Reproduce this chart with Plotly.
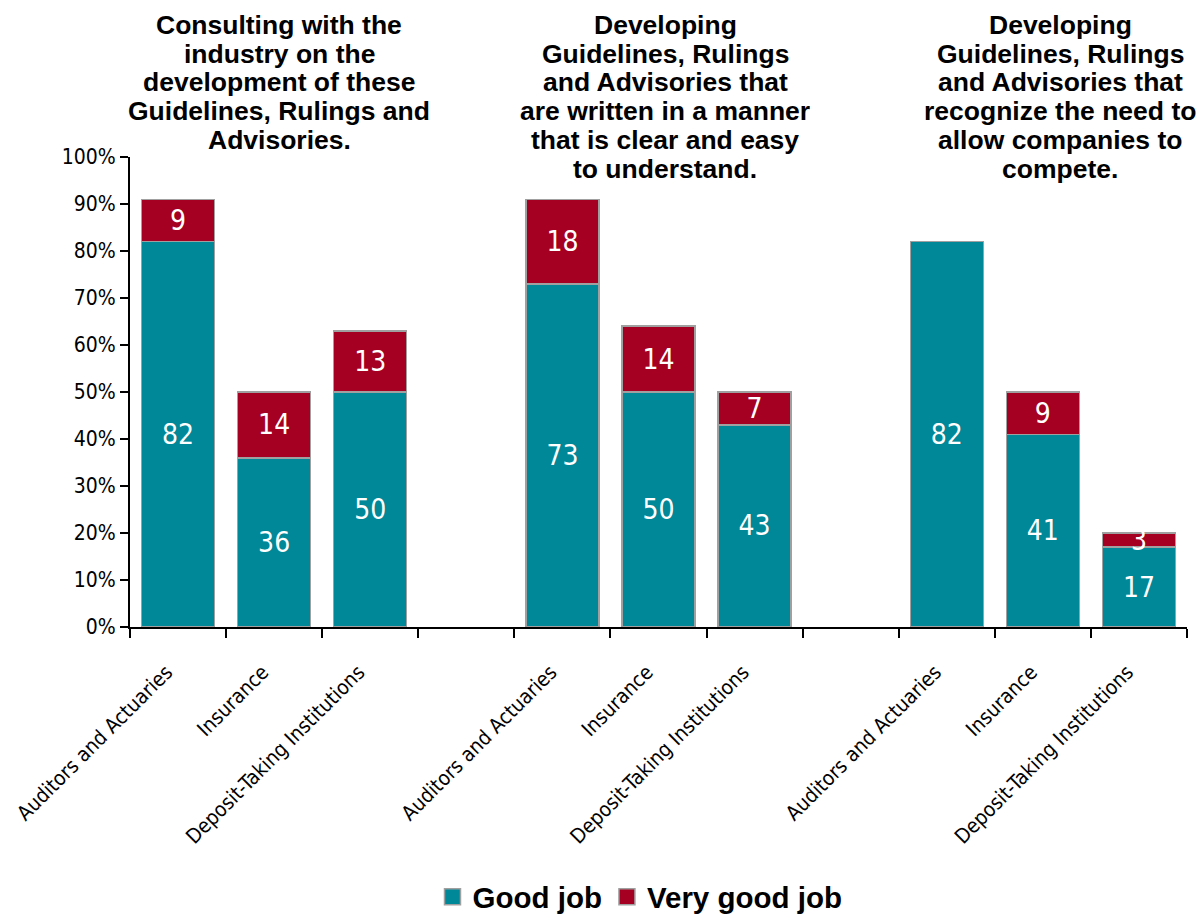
import plotly.graph_objects as go

# Survey sectors shown in every panel
sectors = ["Auditors and Actuaries", "Insurance", "Deposit-Taking Institutions"]

# Panel headings (one per group of bars), pre-broken into lines
group_titles = [
    ["Consulting with the", "industry on the", "development of these",
     "Guidelines, Rulings and", "Advisories."],
    ["Developing", "Guidelines, Rulings", "and Advisories that",
     "are written in a manner", "that is clear and easy", "to understand."],
    ["Developing", "Guidelines, Rulings", "and Advisories that",
     "recognize the need to", "allow companies to", "compete."],
]

# Percentage of respondents, per panel, in sector order
good_job = [[82, 36, 50], [73, 50, 43], [82, 41, 17]]
very_good_job = [[9, 14, 13], [18, 14, 7], [0, 9, 3]]

y_ticks = [0, 10, 20, 30, 40, 50, 60, 70, 80, 90, 100]
y_tick_labels = [f"{v}%" for v in y_ticks]

TEAL = "#008798"
RED = "#A50021"
OUTLINE = "#A0A0A0"
NARROW = "DejaVu Sans Condensed, Liberation Sans Narrow, sans-serif"
BOLD = "Liberation Sans, Arial, sans-serif"

# Each panel takes three slots, with one empty slot between panels
slots_per_group = len(sectors) + 1
x_pos, labels, good_flat, vgood_flat = [], [], [], []
for g in range(len(group_titles)):
    for i, name in enumerate(sectors):
        x_pos.append(g * slots_per_group + i)
        labels.append(name)
        good_flat.append(good_job[g][i])
        vgood_flat.append(very_good_job[g][i])
n_slots = len(group_titles) * slots_per_group - 1

fig = go.Figure()
fig.add_bar(
    x=x_pos, y=good_flat, name="Good job", showlegend=False,
    marker=dict(color=TEAL, line=dict(color=OUTLINE, width=1.5)),
    text=[str(v) if v else "" for v in good_flat],
    textposition="inside", insidetextanchor="middle", textangle=0,
    textfont=dict(family=NARROW, size=28, color="white"),
)
fig.add_bar(
    x=x_pos, y=vgood_flat, name="Very good job", showlegend=False,
    marker=dict(color=RED, line=dict(color=OUTLINE, width=1.5)),
    text=[str(v) if v else "" for v in vgood_flat],
    textposition="inside", insidetextanchor="middle", textangle=0,
    textfont=dict(family=NARROW, size=28, color="white"),
)

# Legend entries with larger square swatches
for name, color in [("Good job", TEAL), ("Very good job", RED)]:
    fig.add_scatter(
        x=[None], y=[None], mode="markers", name=f"<b>{name}</b>",
        marker=dict(symbol="square", size=18, color=color,
                    line=dict(color=OUTLINE, width=1.5)),
    )

# Plot-area geometry in pixels, used to place headings
L, R, T, B = 130, 15, 157, 288
W, H = 1202, 915
pw, ph = W - L - R, H - T - B


def px_x(px):
    return (px - L) / pw


def px_y(py):
    return (H - B - py) / ph


heading_centres = [279, 665, 1060]
for cx, lines in zip(heading_centres, group_titles):
    for k, line in enumerate(lines):
        fig.add_annotation(
            x=px_x(cx), y=px_y(25 + 28.7 * k), xref="paper", yref="paper",
            text=f"<b>{line}</b>", showarrow=False,
            xanchor="center", yanchor="middle",
            font=dict(family=BOLD, size=26.5, color="black"),
        )

# Rotated category labels sit a little left of each bar centre
label_shift = 0.12
boundaries = [b - 0.5 for b in range(n_slots + 1)]
fig.update_layout(
    width=W, height=H,
    margin=dict(l=L, r=R, t=T, b=B, autoexpand=False),
    barmode="stack", bargap=0.24,
    paper_bgcolor="white", plot_bgcolor="white",
    uniformtext=dict(minsize=28, mode="show"),
    legend=dict(
        orientation="h", xref="paper", yref="paper", traceorder="normal",
        x=px_x(640), y=px_y(897), xanchor="center", yanchor="middle",
        font=dict(family=BOLD, size=29.5, color="black"),
        itemwidth=30, tracegroupgap=0,
    ),
    xaxis=dict(
        range=[-0.5, n_slots - 0.5], tickmode="array",
        tickvals=[x - label_shift for x in x_pos], ticktext=labels,
        tickangle=-45, ticks="", ticklabeloverflow="allow",
        ticklabelstandoff=23, automargin=False,
        tickfont=dict(family=NARROW, size=20.5, color="black"),
        showline=True, linecolor="black", linewidth=2,
        showgrid=False, zeroline=False,
        minor=dict(tickmode="array", tickvals=boundaries, ticks="outside",
                   ticklen=9, tickwidth=1.5, tickcolor="black", showgrid=False),
    ),
    yaxis=dict(
        range=[0, 100], tickmode="array", tickvals=y_ticks,
        ticktext=y_tick_labels, ticks="outside", ticklen=8, tickwidth=1.5,
        tickcolor="black", automargin=False,
        tickfont=dict(family=NARROW, size=21, color="black"),
        showline=True, linecolor="black", linewidth=2,
        showgrid=False, zeroline=False,
    ),
)

fig.write_html("out.html")
